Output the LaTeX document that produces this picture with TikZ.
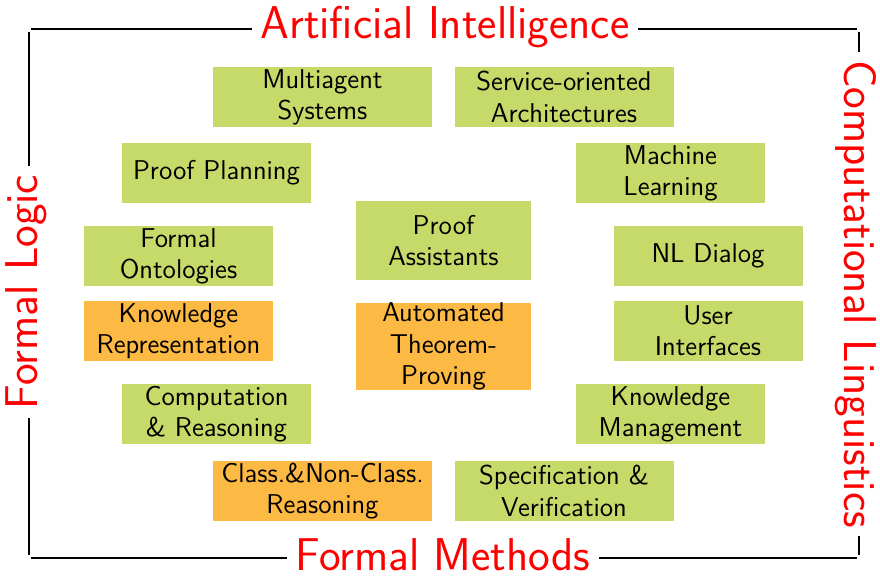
\documentclass[tikz,border=0pt]{standalone}
\usepackage{xcolor}
\definecolor{boxgreen}{RGB}{198,218,106}
\definecolor{boxorange}{RGB}{252,185,68}
\tikzset{
  topic/.style={fill=#1, align=center, inner sep=0pt,
    font=\sffamily\fontsize{13.6}{15.6}\selectfont},
  wide/.style={minimum width=109.5pt, minimum height=30pt},
  mid/.style={minimum width=94.5pt, minimum height=30pt},
  core/.style={minimum width=87.5pt, minimum height=39.5pt},
  field/.style={text=red, fill=white, inner xsep=4pt, inner ysep=0pt,
    font=\sffamily\fontsize{23}{26}\selectfont}
}
\begin{document}
\begin{tikzpicture}[x=0.5pt,y=-0.5pt]
    \useasboundingbox (0,0) rectangle (880,578);

    % --- frame labels ---
    \node[field] (ai) at (445,27) {Artificial Intelligence};
    \node[field] (fm) at (443,555) {Formal Methods};
    \node[field, rotate=90] (fl) at (26,292) {Formal Logic};
    \node[field, rotate=-90] (cl) at (856,294) {Computational Linguistics};

    % --- frame ---
    \coordinate (tl) at (29,29);
    \coordinate (tr) at (859,29);
    \coordinate (bl) at (29,558);
    \coordinate (br) at (859,558);
    \draw[thick] ([xshift=1pt]tl) -- (tl -| ai.west);
    \draw[thick] (tl -| ai.east) -- ([xshift=-1pt]tr);
    \draw[thick] ([xshift=1pt]bl) -- (bl -| fm.west);
    \draw[thick] (bl -| fm.east) -- ([xshift=-1pt]br);
    \draw[thick] ([yshift=-1.5pt]tl) -- (tl |- fl.east);
    \draw[thick] (bl |- fl.west) -- ([yshift=1.5pt]bl);
    \draw[thick] ([yshift=-1.5pt]tr) -- (tr |- cl.west);
    \draw[thick] (br |- cl.east) -- ([yshift=1.5pt]br);

    % --- topics ---
    \node[topic=boxgreen, wide] (multi) at (322.5,97) {Multiagent\\Systems};
    \node[topic=boxgreen, wide] (soa) at (564,97) {Service-oriented\\Architectures};
    \node[topic=boxgreen, mid] (planning) at (216.5,173) {Proof Planning};
    \node[topic=boxgreen, mid] (ml) at (670.5,173) {Machine\\Learning};
    \node[topic=boxgreen, core] (assist) at (443.5,240.5) {Proof\\Assistants};
    \node[topic=boxgreen, mid] (onto) at (178.5,256) {Formal\\Ontologies};
    \node[topic=boxgreen, mid] (nld) at (708,256) {NL Dialog};
    \node[topic=boxorange, mid] (kr) at (178.5,331) {Knowledge\\Representation};
    \node[topic=boxorange, core] (atp) at (443.5,346.5) {Automated\\Theorem-\\Proving};
    \node[topic=boxgreen, mid] (ui) at (708,331) {User\\Interfaces};
    \node[topic=boxgreen, mid] (comp) at (216.5,414) {Computation\\\& Reasoning};
    \node[topic=boxgreen, mid] (km) at (670.5,414) {Knowledge\\Management};
    \node[topic=boxorange, wide] (cnc) at (322.5,491) {Class.\&Non-Class.\\Reasoning};
    \node[topic=boxgreen, wide] (specver) at (564,491) {Specification \&\\Verification};
\end{tikzpicture}
\end{document}
